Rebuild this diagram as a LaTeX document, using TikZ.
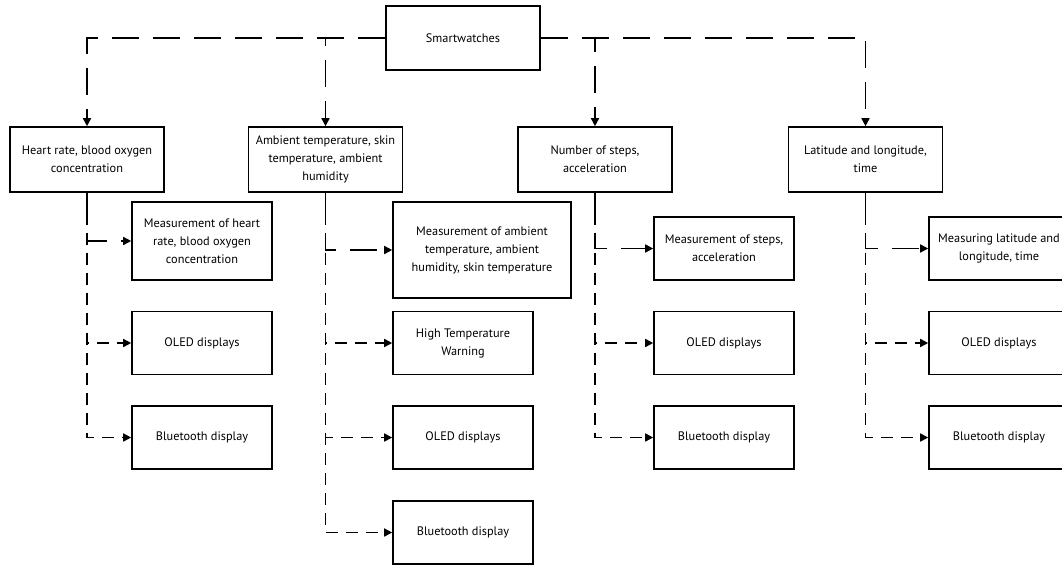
\documentclass[tikz,border=0pt]{standalone}
\usepackage{fontspec}
\setmainfont{PT Sans}
\usetikzlibrary{arrows.meta}

\begin{document}
\begin{tikzpicture}[x=1pt,y=-1pt,
	box_node/.style={draw,line width=1.6pt,align=center,inner sep=2pt,minimum width=140pt,minimum height=63pt,font=\fontsize{12.3}{18}\selectfont},
	top_node/.style={box_node,minimum width=154pt,minimum height=65pt},
	long_link/.style={line width=1.6pt,dash pattern=on 27pt off 14pt,-{Triangle[length=8pt,width=8pt]}},
	short_link/.style={line width=1.6pt,dash pattern=on 12pt off 8pt,-{Triangle[length=8pt,width=8pt]}}]

		\useasboundingbox (0,0) rectangle (1062,565);

		\node[top_node,minimum height=64pt] (sw) at (463,38) {Smartwatches};

		\node[top_node] (hr) at (87,159.5) {Heart rate, blood oxygen\\concentration};
		\node[top_node] (amb) at (325.5,159.5) {Ambient temperature, skin\\temperature, ambient\\humidity};
		\node[top_node] (st) at (595,159.5) {Number of steps,\\acceleration};
		\node[top_node] (lat) at (865.5,159.5) {Latitude and longitude,\\time};

		\node[box_node,minimum height=78pt] (hrm) at (202,241) {Measurement of heart\\rate, blood oxygen\\concentration};
		\node[box_node] (hro) at (202,343) {OLED displays};
		\node[box_node] (hrb) at (202,437.5) {Bluetooth display};

		\node[box_node,minimum width=178pt,minimum height=96pt] (ambm) at (482,250) {Measurement of ambient\\temperature, ambient\\humidity, skin temperature};
		\node[box_node] (ambw) at (463,343) {High Temperature\\Warning};
		\node[box_node] (ambo) at (463,437.5) {OLED displays};
		\node[box_node] (ambb) at (463,532.5) {Bluetooth display};

		\node[box_node] (stm) at (724,248.5) {Measurement of steps,\\acceleration};
		\node[box_node] (sto) at (724,343) {OLED displays};
		\node[box_node] (stb) at (724,437.5) {Bluetooth display};

		\node[box_node] (latm) at (999,248.5) {Measuring latitude and\\longitude, time};
		\node[box_node] (lato) at (999,343) {OLED displays};
		\node[box_node] (latb) at (999,437.5) {Bluetooth display};

		\draw[long_link] (sw.west) -| (hr.north);
		\draw[long_link] (sw.west) -| (amb.north);
		\draw[long_link] (sw.east) -| (st.north);
		\draw[long_link] (sw.east) -| (lat.north);

		\draw[long_link] (hr.south) |- (hrm.west);
		\draw[short_link] (hr.south) |- (hro.west);
		\draw[short_link] (hr.south) |- (hrb.west);

		\draw[long_link] (amb.south) |- (ambm.west);
		\draw[short_link] (amb.south) |- (ambw.west);
		\draw[short_link] (amb.south) |- (ambo.west);
		\draw[short_link] (amb.south) |- (ambb.west);

		\draw[long_link] (st.south) |- (stm.west);
		\draw[short_link] (st.south) |- (sto.west);
		\draw[short_link] (st.south) |- (stb.west);

		\draw[long_link] (lat.south) |- (latm.west);
		\draw[short_link] (lat.south) |- (lato.west);
		\draw[short_link] (lat.south) |- (latb.west);
		\end{tikzpicture}
\end{document}
